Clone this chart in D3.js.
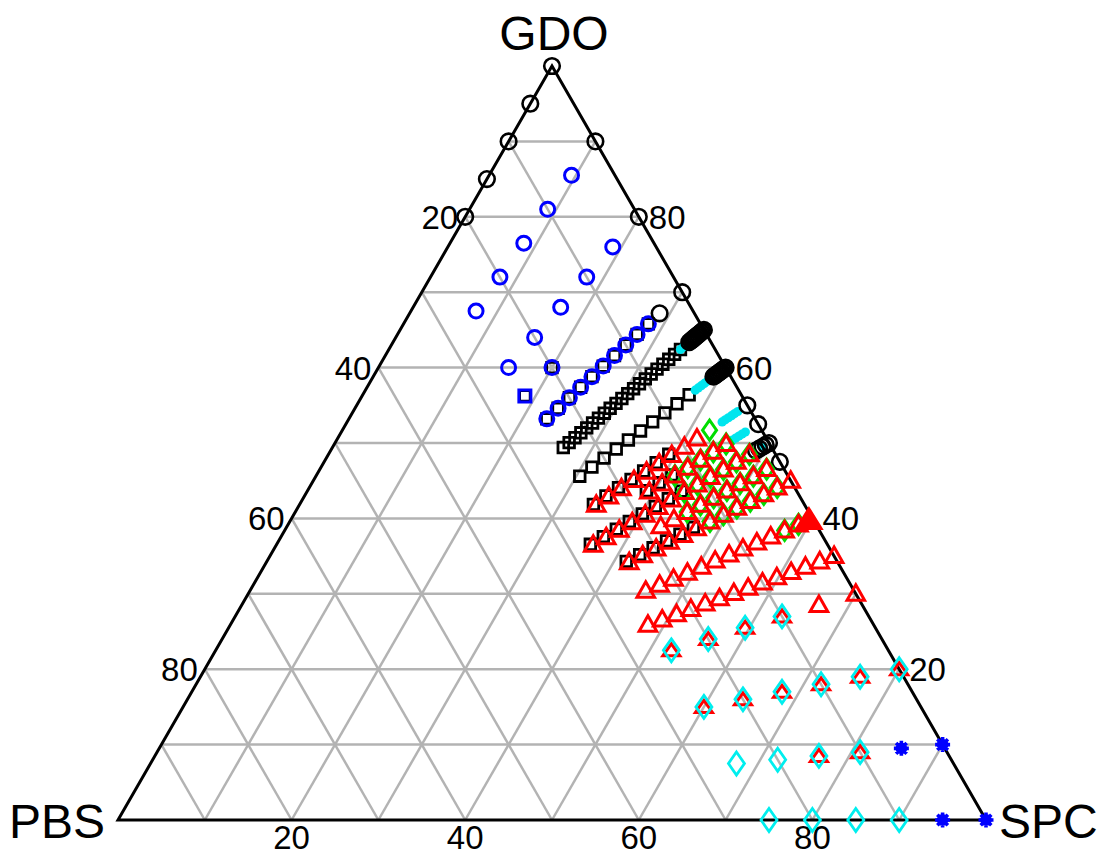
<!DOCTYPE html>
<html>
<head>
<meta charset="utf-8">
<script src="https://cdn.jsdelivr.net/npm/d3@7"></script>
<style>
  html, body { margin: 0; padding: 0; background: #fff; }
  svg { display: block; font-family: "Liberation Sans", Arial, sans-serif; }
</style>
</head>
<body>
<svg id="chart" width="1104" height="855"></svg>
<script>
// Ternary mixtures of GDO / SPC / PBS.
// Each point: [GDO share of (GDO+SPC) in %, PBS in %].
const vertexNames = ["GDO", "PBS", "SPC"];
const tickValues = [20, 40, 60, 80];

const blackCircles = [
  [100, 0], [100, 5], [100, 10], [100, 15], [100, 20],
  [90, 0], [80, 0], [70, 0], [70, 4],
  [65, 2.5], [65, 2.25], [65, 2], [65, 1.75], [65, 1.5], [65, 1.25], [65, 1], [65, 0.75], [65, 0.5], [65, 0.25], [65, 0],
  [60, 2], [60, 1.75], [60, 1.5], [60, 1.25], [60, 1], [60, 0.75], [60, 0.5], [60, 0.25], [60, 0],
  [55, 0], [52.5, 0], [50, 2], [50, 1.5], [50, 1], [50, 0.5], [50, 0], [47.5, 0]
];
const blackSquares = [
  [75, 25], [75, 20],
  [70, 24], [70, 22], [70, 20], [70, 18], [70, 16], [70, 14], [70, 12], [70, 10], [70, 8], [70, 6],
  [65, 24], [65, 23], [65, 22], [65, 21], [65, 20], [65, 19], [65, 18], [65, 17], [65, 16], [65, 15],
  [65, 14], [65, 13], [65, 12], [65, 11], [65, 10], [65, 9], [65, 8], [65, 7], [65, 6], [65, 5], [65, 4],
  [60, 24], [60, 22], [60, 20], [60, 18], [60, 16], [60, 14], [60, 12], [60, 10], [60, 8], [60, 6],
  // partly hidden under the red triangles
  [55.3, 24.3], [55.3, 22.3], [55.3, 20.3], [55.3, 18.3], [55.3, 16.3], [55.3, 14.3], [55.3, 12.3],
  [52.8, 17.3], [52.8, 15.3], [52.8, 13.3],
  [50.3, 27.3], [50.3, 25.3], [50.3, 23.3], [50.3, 21.3], [50.3, 19.3], [50.3, 17.3], [50.3, 15.3], [50.3, 13.3],
  [45.3, 24.3], [45.3, 22.3], [45.3, 20.3], [45.3, 18.3], [45.3, 16.3], [45.3, 14.3]
];
const blueSquares = [[75, 25]];
const blueCircles = [
  [90, 5], [90, 10], [90, 15], [90, 20], [90, 25],
  [80, 5], [80, 10], [80, 15], [80, 20], [80, 25],
  [75, 20],
  [70, 24], [70, 22], [70, 20], [70, 18], [70, 16], [70, 14], [70, 12], [70, 10], [70, 8], [70, 6]
];
const cyanDots = [
  [65, 4], [65, 3.5], [65, 3],
  [60, 5], [60, 4.5], [60, 4], [60, 3.5], [60, 3], [60, 2.5],
  [55, 4], [55, 3.5], [55, 3], [55, 2.5], [55, 2], [55, 1.5],
  [52.5, 4], [52.5, 3.5], [52.5, 3], [52.5, 2.5], [52.5, 2],
  [50, 1]
];
const greenDiamonds = [
  [55, 6],
  [52.5, 13], [52.5, 11], [52.5, 9], [52.5, 7], [52.5, 5],
  [50, 13], [50, 11], [50, 9], [50, 7], [50, 5], [50, 3],
  [47.5, 14], [47.5, 12], [47.5, 10], [47.5, 8], [47.5, 6], [47.5, 4], [47.5, 2],
  [45, 12], [45, 10], [45, 8], [45, 6], [45, 4], [45, 2],
  [40, 4], [40, 2]
];
const redTriangles = [
  [55, 24], [55, 22], [55, 20], [55, 18], [55, 16], [55, 14], [55, 12], [55, 10], [55, 8],
  [52.5, 17], [52.5, 15], [52.5, 13], [52.5, 11], [52.5, 9], [52.5, 7], [52.5, 5],
  [50, 27], [50, 25], [50, 23], [50, 21], [50, 19], [50, 17], [50, 15], [50, 13], [50, 11],
  [50, 9], [50, 7], [50, 5], [50, 3],
  [47.5, 18], [47.5, 16], [47.5, 14], [47.5, 12], [47.5, 10], [47.5, 8], [47.5, 6], [47.5, 4], [47.5, 2],
  [45, 24], [45, 22], [45, 20], [45, 18], [45, 16], [45, 14], [45, 12], [45, 10], [45, 8],
  [45, 6], [45, 4], [45, 2], [45, 0],
  [40, 24], [40, 22], [40, 20], [40, 18], [40, 16], [40, 14], [40, 12], [40, 10], [40, 8],
  [40, 6], [40, 4], [40, 2],
  [35, 26], [35, 24], [35, 22], [35, 20], [35, 18], [35, 16], [35, 14], [35, 12], [35, 10],
  [35, 8], [35, 6], [35, 4], [35, 2], [35, 0],
  [30, 5], [30, 0]
];
const redFilledTriangles = [[40, 0.5]];
const redSmallTriangles = [
  [30, 25], [30, 20], [30, 15], [30, 10],
  [20, 25], [20, 20], [20, 15], [20, 10], [20, 5], [20, 0],
  [10, 15], [10, 10]
];
const cyanDiamonds = [
  [30, 25], [30, 20], [30, 15], [30, 10],
  [20, 25], [20, 20], [20, 15], [20, 10], [20, 5], [20, 0],
  [10, 25], [10, 20], [10, 15], [10, 10],
  [0, 25], [0, 20], [0, 15], [0, 10]
];
const blueStars = [[10, 5], [10, 0], [0, 5], [0, 0]];

// ---- geometry -------------------------------------------------------
const svg = d3.select("#chart");
// horizontal position along the base (SPC %), vertical position (GDO %)
const xScale = d3.scaleLinear().domain([0, 100]).range([118, 986]);
const yScale = d3.scaleLinear().domain([0, 100]).range([820, 66]);

// composition from [ratio, pbs]
function comp(d) {
  const rest = 100 - d[1];
  return { g: d[0] * rest / 100, s: (100 - d[0]) * rest / 100, p: d[1] };
}
// ternary (GDO, SPC) -> pixel
function px(g, s) { return [xScale(s + g / 2), yScale(g)]; }
function pos(d) { const c = comp(d); return px(c.g, c.s); }

// ---- grid -----------------------------------------------------------
const gridG = svg.append("g");
const steps = d3.range(10, 100, 10);
const gridLines = [];
steps.forEach(v => {
  gridLines.push([px(v, 0), px(v, 100 - v)]);       // constant GDO
  gridLines.push([px(0, v), px(100 - v, v)]);       // constant SPC
  gridLines.push([px(0, 100 - v), px(100 - v, 0)]); // constant PBS
});
gridG.selectAll("line").data(gridLines).join("line")
  .attr("x1", d => d[0][0]).attr("y1", d => d[0][1])
  .attr("x2", d => d[1][0]).attr("y2", d => d[1][1])
  .attr("stroke", "#b3b3b3").attr("stroke-width", 2.5);

// outline
const corners = [px(100, 0), px(0, 0), px(0, 100)];
svg.append("path")
  .attr("d", d3.line()(corners) + "Z")
  .attr("fill", "none").attr("stroke", "#000").attr("stroke-width", 3)
  .attr("stroke-linejoin", "miter");

// ---- tick labels ----------------------------------------------------
const tickFont = 33;
const ticks = svg.append("g").attr("font-size", tickFont).attr("fill", "#000");
// left edge: PBS
ticks.selectAll("text.l").data(tickValues).join("text").attr("class", "l")
  .attr("x", v => px(100 - v, 0)[0] - 7)
  .attr("y", v => px(100 - v, 0)[1] + 12)
  .attr("text-anchor", "end").text(v => v);
// right edge: GDO
ticks.selectAll("text.r").data(tickValues).join("text").attr("class", "r")
  .attr("x", v => px(v, 100 - v)[0] + 10)
  .attr("y", v => px(v, 100 - v)[1] + 12)
  .attr("text-anchor", "start").text(v => v);
// bottom edge: SPC
ticks.selectAll("text.b").data(tickValues).join("text").attr("class", "b")
  .attr("x", v => px(0, v)[0])
  .attr("y", 849)
  .attr("text-anchor", "middle").text(v => v);

// vertex names
const names = svg.append("g").attr("font-size", 48).attr("fill", "#000");
names.append("text").attr("x", px(100, 0)[0] + 2).attr("y", 50).attr("text-anchor", "middle").text(vertexNames[0]);
names.append("text").attr("x", 9).attr("y", 838).attr("text-anchor", "start").text(vertexNames[1]);
names.append("text").attr("x", 999).attr("y", 838).attr("text-anchor", "start").text(vertexNames[2]);

// ---- markers --------------------------------------------------------
const marks = svg.append("g");
function drawSeries(data, shape, style) {
  marks.append("g").selectAll("path").data(data).join("path")
    .attr("transform", d => { const p = pos(d); return `translate(${p[0]},${p[1]})`; })
    .attr("d", shape)
    .attr("fill", style.fill || "none")
    .attr("stroke", style.stroke || "none")
    .attr("stroke-width", style.width || 0)
    .attr("stroke-linejoin", "miter");
}
const circlePath = r => d3.symbol(d3.symbolCircle, Math.PI * r * r)();
const squarePath = a => `M${-a},${-a}H${a}V${a}H${-a}Z`;
const diamondPath = (w, h) => `M0,${-h}L${w},0L0,${h}L${-w},0Z`;
const trianglePath = (w, top, bot) => `M0,${-top}L${w},${bot}L${-w},${bot}Z`;
const starPath = r => {
  let s = "";
  for (let i = 0; i < 4; i++) {
    const a = i * Math.PI / 4;
    const dx = r * Math.cos(a), dy = r * Math.sin(a);
    s += `M${-dx},${-dy}L${dx},${dy}`;
  }
  return s + circlePath(r * 0.55);
};

drawSeries(blackSquares, squarePath(5.3), { stroke: "#000", width: 2.8 });
drawSeries(blueSquares, squarePath(6), { stroke: "#0000ff", width: 3 });
drawSeries(blueCircles, circlePath(7), { stroke: "#0000ff", width: 3 });
drawSeries(cyanDots, circlePath(4.6), { fill: "#00e5ee" });
drawSeries(blackCircles, circlePath(7.8), { stroke: "#000", width: 2.6 });
drawSeries(greenDiamonds, diamondPath(7, 10), { stroke: "#00dd00", width: 3 });
drawSeries(redTriangles, trianglePath(8.8, 9, 6.5), { stroke: "#ff0000", width: 3 });
drawSeries(redFilledTriangles, trianglePath(13, 12, 9), { fill: "#ff0000", stroke: "#ff0000", width: 2 });
drawSeries(redSmallTriangles, trianglePath(8.5, 6.5, 5.5), { stroke: "#ff0000", width: 3 });
drawSeries(cyanDiamonds, diamondPath(8, 11.5), { stroke: "#00eeee", width: 2.8 });
drawSeries(blueStars, starPath(7.5), { stroke: "#0000ff", fill: "#0000ff", width: 3.6 });
</script>
</body>
</html>
